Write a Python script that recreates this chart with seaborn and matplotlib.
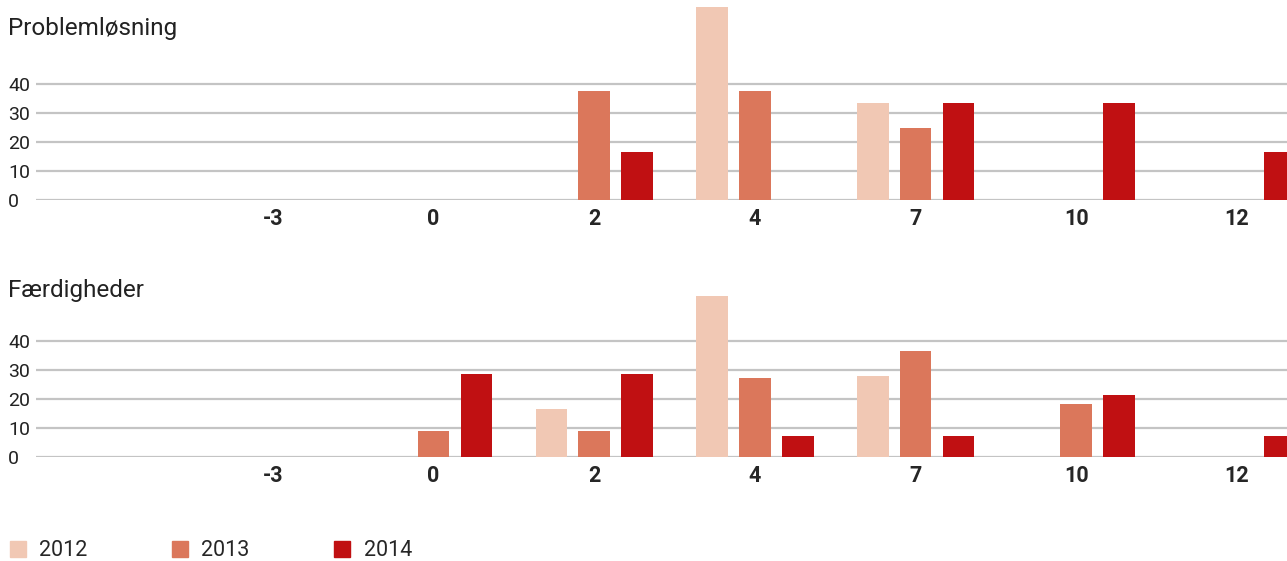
import matplotlib
matplotlib.use("Agg")
import matplotlib.pyplot as plt
from matplotlib.lines import Line2D
import seaborn as sns
import pandas as pd

# grades on the Danish 7-point scale
grades = ["-3", "0", "2", "4", "7", "10", "12"]
years = ["2012", "2013", "2014"]

# percentage of students per grade
problem_2012 = [0, 0, 0, 66.7, 33.3, 0, 0]
problem_2013 = [0, 0, 37.5, 37.5, 25.0, 0, 0]
problem_2014 = [0, 0, 16.7, 0, 33.3, 33.3, 16.7]

skills_2012 = [0, 0, 16.7, 55.6, 27.8, 0, 0]
skills_2013 = [0, 9.1, 9.1, 27.3, 36.4, 18.2, 0]
skills_2014 = [0, 28.6, 28.6, 7.1, 7.1, 21.4, 7.1]

colors = {"2012": "#F1C8B4", "2013": "#DB775B", "2014": "#C01012"}


def to_long(v2012, v2013, v2014):
    rows = []
    for year, vals in zip(years, [v2012, v2013, v2014]):
        for g, v in zip(grades, vals):
            rows.append({"grade": g, "year": year, "value": v})
    return pd.DataFrame(rows)


sns.set_style("white")
plt.rcParams["font.family"] = ["Roboto", "DejaVu Sans"]

W, H = 1287, 561
fig = plt.figure(figsize=(W / 100, H / 100), dpi=100)

# axes placed in pixel terms of the reference
ax_top = fig.add_axes([36 / W, (H - 200) / H, 1 - 36 / W, 200 / H])
ax_bot = fig.add_axes([36 / W, (H - 457) / H, 1 - 36 / W, 167 / H])


def draw_panel(ax, df, ymax):
    sns.barplot(data=df, x="grade", y="value", hue="year", order=grades,
                hue_order=years, palette=colors, width=0.8, gap=0.26,
                saturation=1, linewidth=0, legend=False, ax=ax)
    ax.set_xlim(-1.475, 6.312)
    ax.set_ylim(0, ymax)
    ax.set_yticks([0, 10, 20, 30, 40])
    ax.yaxis.grid(True, color="#c4c4c4", linewidth=1.6)
    ax.set_axisbelow(True)
    for s in ax.spines.values():
        s.set_visible(False)
    ax.set_xlabel("")
    ax.set_ylabel("")
    ax.tick_params(axis="y", length=0, pad=20, labelsize=14, labelcolor="#222222")
    for lbl in ax.get_yticklabels():
        lbl.set_horizontalalignment("left")
    ax.tick_params(axis="x", length=0, pad=6, labelsize=15.5)
    for lbl in ax.get_xticklabels():
        lbl.set_fontweight("bold")


draw_panel(ax_top, to_long(problem_2012, problem_2013, problem_2014), 69)
draw_panel(ax_bot, to_long(skills_2012, skills_2013, skills_2014), 57.6)

fig.text(8 / W, 1 - 29 / H, "Problemløsning", fontsize=17.5, va="center", color="#222222")
fig.text(8 / W, 1 - 291 / H, "Færdigheder", fontsize=17.5, va="center", color="#222222")

handles = [Line2D([], [], marker="s", linestyle="", markersize=11,
                  markerfacecolor=colors[y], markeredgecolor=colors[y]) for y in years]
fig.legend(handles, years, loc="center left", bbox_to_anchor=(9 / W, 10 / H),
           ncol=3, frameon=False, fontsize=15.5, handlelength=0.8, handletextpad=0.6,
           columnspacing=3.9, borderpad=0, borderaxespad=0)

fig.savefig("out.png", dpi=100)
